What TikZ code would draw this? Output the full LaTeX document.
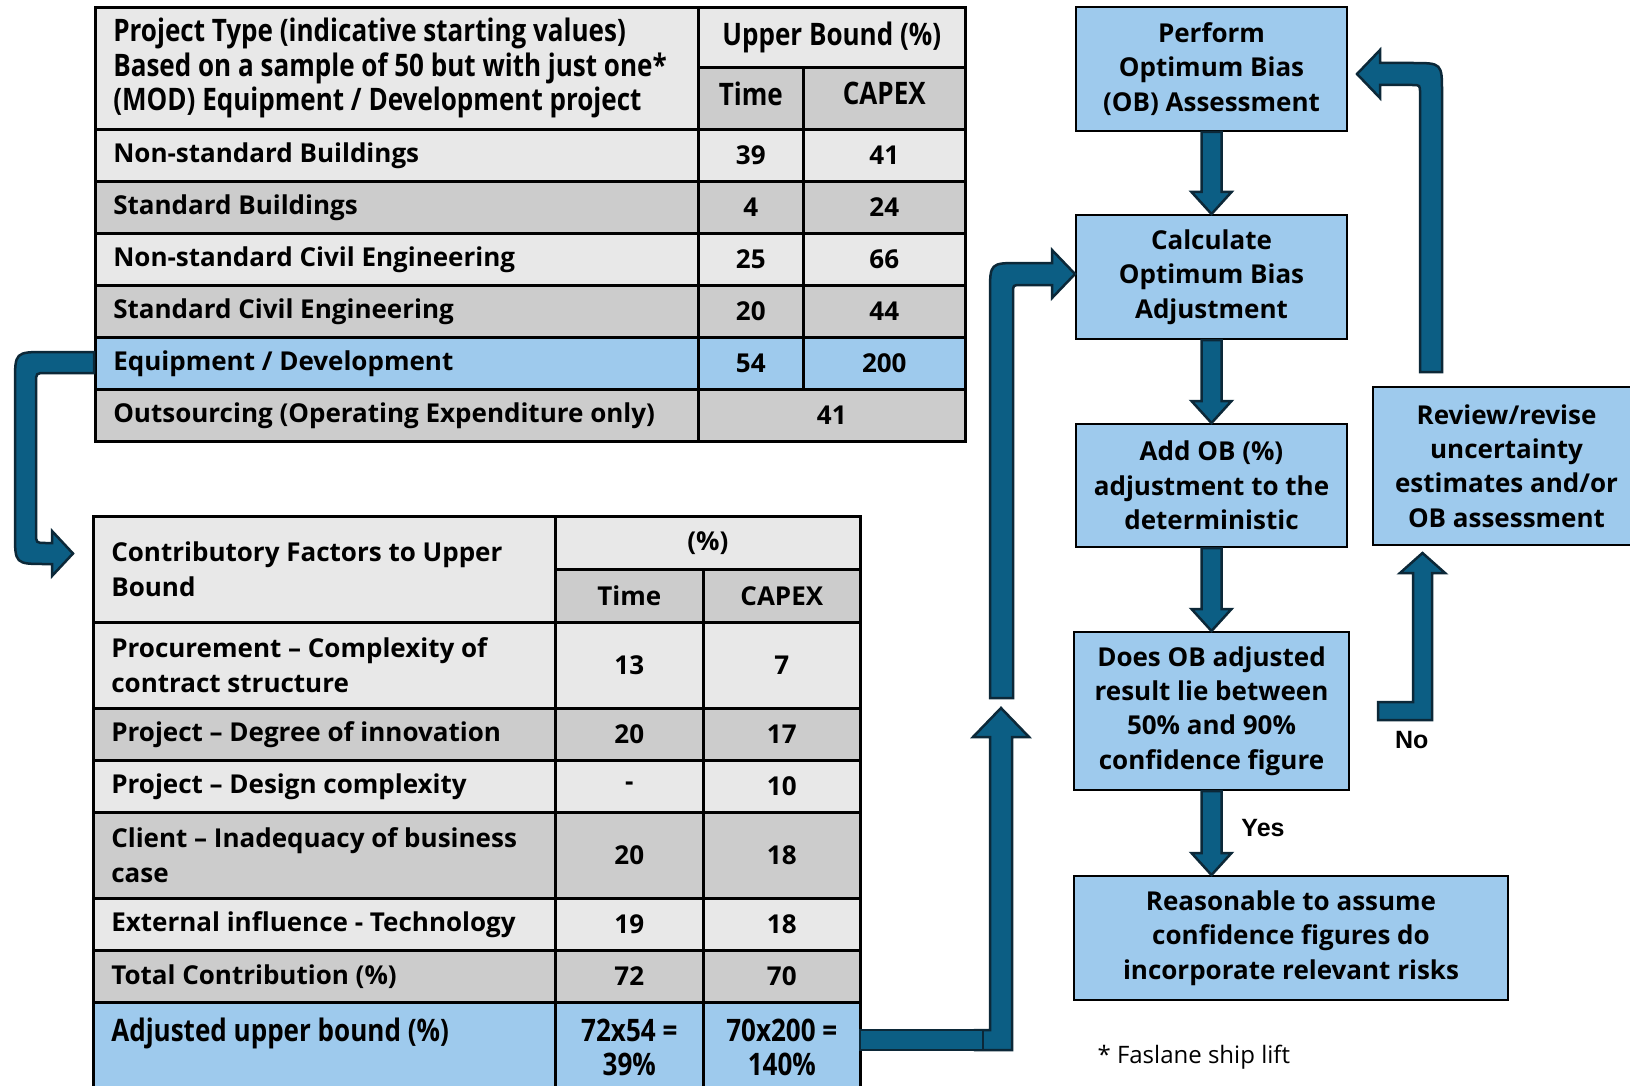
\documentclass[tikz,border=0pt]{standalone}
\usepackage{fontspec}
\setmainfont{Open Sans}
\newfontfamily\narrowfont{Open Sans}[FakeStretch=0.84]
\newfontfamily\arialfont{Liberation Sans}
\usetikzlibrary{calc}

\definecolor{lightgrey}{RGB}{232,232,232}
\definecolor{midgrey}{RGB}{204,204,204}
\definecolor{skyblue}{RGB}{158,202,237}
\definecolor{arrowfill}{RGB}{12,94,132}
\definecolor{arrowline}{RGB}{12,40,56}

\begin{document}
\begin{tikzpicture}[
    x=1pt, y=-1pt,
    cell/.style={draw, line width=2.6pt, anchor=north west, inner xsep=18pt, inner ysep=0pt,
                 font=\fontsize{26}{34.5}\selectfont\bfseries},
    txtcell/.style={cell, align=flush left, text width=#1pt},
    numcell/.style={cell, align=center, minimum width=#1pt},
    narrow/.style={font=\fontsize{31}{34.5}\selectfont\narrowfont\bfseries},
    flow/.style={draw, line width=2pt, fill=skyblue, align=center, inner sep=0pt,
                 font=\fontsize{26}{34.3}\selectfont\bfseries},
    blockarrow/.style={draw=arrowline, fill=arrowfill, line width=2.5pt, line join=miter},
    yesno/.style={font=\fontsize{25}{30}\selectfont\arialfont\bfseries}
]
\useasboundingbox[fill=white] (0,0) rectangle (1630,1086);

% ====================
% Tabella: tipo di progetto
% ====================
\node[txtcell=567, minimum height=122pt, fill=lightgrey, narrow] (ptHead) at (94,6)
  {Project Type (indicative starting values)\\Based on a sample of 50 but with just one*\\(MOD) Equipment / Development project};
\node[numcell=267, minimum height=60pt, fill=lightgrey, narrow] (ptUpper) at (697,6) {Upper Bound (\%)};
\node[numcell=105, minimum height=62pt, fill=midgrey, narrow, text depth=10pt] (ptTime) at (697,66) {Time};
\node[numcell=162, minimum height=62pt, fill=midgrey, narrow, text depth=10pt] (ptCapex) at (802,66) {CAPEX};

\foreach \y/\txt/\ti/\ca/\col [count=\i] in {
    128/Non-standard Buildings/39/41/lightgrey,
    180/Standard Buildings/4/24/midgrey,
    232/Non-standard Civil Engineering/25/66/lightgrey,
    284/Standard Civil Engineering/20/44/midgrey,
    336/{Equipment / Development}/54/200/skyblue}
{
  \node[txtcell=567, minimum height=52pt, fill=\col] (pt\i) at (94,\y) {\txt};
  \node[numcell=105, minimum height=52pt, fill=\col] (pt\i-t) at (697,\y) {\ti};
  \node[numcell=162, minimum height=52pt, fill=\col] (pt\i-c) at (802,\y) {\ca};
}
\node[txtcell=567, minimum height=52pt, fill=midgrey] (pt6) at (94,388) {Outsourcing (Operating Expenditure only)};
\node[numcell=267, minimum height=52pt, fill=midgrey] (pt6-tc) at (697,388) {41};

% ====================
% Tabella: fattori contributivi
% ====================
\node[txtcell=426, minimum height=106pt, fill=lightgrey] (cfHead) at (92,515) {Contributory Factors to Upper\\Bound};
\node[numcell=305, minimum height=53pt, fill=lightgrey] (cfPct) at (554,515) {(\%)};
\node[numcell=148, minimum height=53pt, fill=midgrey] (cfTime) at (554,568) {Time};
\node[numcell=157, minimum height=53pt, fill=midgrey] (cfCapex) at (702,568) {CAPEX};

\foreach \y/\h/\txt/\ti/\ca/\col [count=\i] in {
    621/86/{Procurement – Complexity of\\contract structure}/13/7/lightgrey,
    707/52/{Project – Degree of innovation}/20/17/midgrey,
    759/52/{Project – Design complexity}/-/10/lightgrey,
    811/86/{Client – Inadequacy of business\\case}/20/18/midgrey,
    897/52/{External influence - Technology}/19/18/lightgrey,
    949/52/{Total Contribution (\%)}/72/70/midgrey}
{
  \node[txtcell=426, minimum height=\h pt, fill=\col] (cf\i) at (92,\y) {\txt};
  \node[numcell=148, minimum height=\h pt, fill=\col] (cf\i-t) at (554,\y) {\ti};
  \node[numcell=157, minimum height=\h pt, fill=\col] (cf\i-c) at (702,\y) {\ca};
}
\node[txtcell=426, minimum height=90pt, fill=skyblue, narrow] (cfAdj) at (92,1001) {Adjusted upper bound (\%)\\~};
\node[numcell=148, minimum height=90pt, fill=skyblue, narrow] (cfAdj-t) at (554,1001) {72x54 =\\39\%};
\node[numcell=157, minimum height=90pt, fill=skyblue, narrow] (cfAdj-c) at (702,1001) {70x200 =\\140\%};

% ====================
% Flusso OB
% ====================
\node[flow, minimum width=271pt, minimum height=124pt] (perform) at (1211.5,69) {Perform\\Optimum Bias\\(OB) Assessment};
\node[flow, minimum width=271pt, minimum height=124pt] (calcadj) at (1211.5,277) {Calculate\\Optimum Bias\\Adjustment};
\node[flow, minimum width=271pt, minimum height=123pt] (addob) at (1211.5,485.5) {Add OB (\%)\\adjustment to the\\deterministic};
\node[flow, minimum width=275pt, minimum height=158pt] (does) at (1211.5,711) {Does OB adjusted\\result lie between\\50\% and 90\%\\confidence figure};
\node[flow, minimum width=434pt, minimum height=124pt] (reason) at (1291,938) {Reasonable to assume\\confidence figures do\\incorporate relevant risks};
\node[flow, minimum width=267pt, minimum height=158pt] (review) at (1506.5,466) {Review/revise\\uncertainty\\estimates and/or\\OB assessment};

\node[yesno] (yes) at (1263,828.5) {Yes};
\node[yesno] (no) at (1411.7,740) {No};
\node[anchor=west, font=\fontsize{24}{28}\selectfont] (note) at (1094,1057) {* Faslane ship lift};

% ====================
% Frecce
% ====================
% frecce verso il basso
\foreach \a/\b in {perform/calcadj, calcadj/addob, addob/does, does/reason}
  \draw[blockarrow] ($(\a.south)+(-10,0)$) -- ($(\a.south |- \b.north)+(-10,-22)$)
      -- ++(-10,0) -- (\a.south |- \b.north) -- ++(20,-22) -- ++(-10,0)
      -- ($(\a.south)+(10,0)$) -- cycle;

% Equipment -> fattori
\coordinate (eqTail) at (94,352);
\coordinate (cfTip) at (73,553.5);
\draw[blockarrow] (eqTail) -- (46,352) .. controls (15,352) .. (15,383) -- (15,533)
    .. controls (15,564) .. (46,564) -- (52,564) -- (52,576) -- (cfTip) -- (52,531)
    -- (52,543) -- (46,543) .. controls (36,543) .. (36,533) -- (36,383)
    .. controls (36,373) .. (46,373) -- (94,373) -- cycle;

% review -> perform
\coordinate (rvTail) at (1420,372);
\coordinate (pfTip) at (1357,74);
\draw[blockarrow] (rvTail) -- (1420,93) .. controls (1420,85) .. (1412,85) -- (1380,85)
    -- (1380,98) -- (pfTip) -- (1380,50) -- (1380,63) -- (1412,63)
    .. controls (1442,63) .. (1442,93) -- (1442,372) -- cycle;

% No
\coordinate (noTail) at (1378,702);
\coordinate (noTip) at (1422.5,553);
\draw[blockarrow] (noTail) -- (1413,702) -- (1413,573) -- (1400,573) -- (noTip)
    -- (1445,573) -- (1432,573) -- (1432,720) -- (1378,720) -- cycle;

% adjusted -> calculate
\coordinate (upTip) at (1001,708);
\draw[blockarrow] (975,1030) -- (990,1030) -- (990,737) -- (973,737) -- (upTip)
    -- (1029,737) -- (1012,737) -- (1012,1050) -- (975,1050) -- cycle;
\coordinate (adjTail) at (860,1030);
\draw[blockarrow] (adjTail) rectangle (983,1050);

\coordinate (upTail) at (990,698);
\coordinate (calcTip) at (1075,274);
\draw[blockarrow] (upTail) -- (990,293) .. controls (990,263) .. (1020,263) -- (1052,263)
    -- (1052,250) -- (calcTip) -- (1052,298) -- (1052,285) -- (1021,285)
    .. controls (1013,285) .. (1013,293) -- (1013,698) -- cycle;

\end{tikzpicture}
\end{document}
